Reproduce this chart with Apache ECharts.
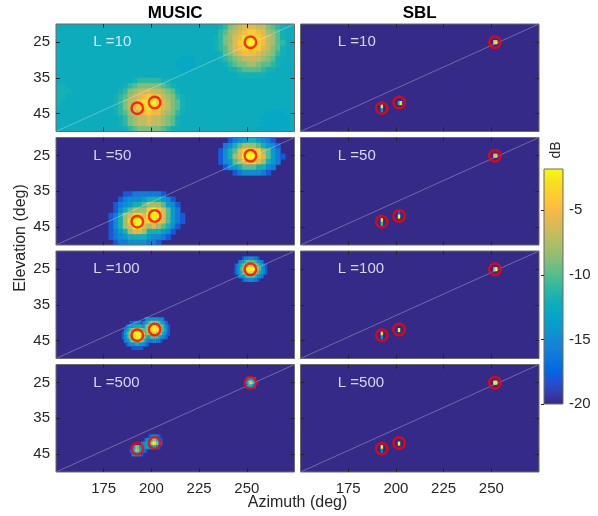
<!DOCTYPE html>
<html>
<head>
<meta charset="utf-8">
<script src="https://cdn.jsdelivr.net/npm/echarts@6/dist/echarts.min.js"></script>
<style>html,body{margin:0;padding:0;background:#fff}#c{width:598px;height:516px}</style>
</head>
<body>
<div id="c"></div>
<script>
// ---------------- data ----------------
const methods = ['MUSIC', 'SBL'];
const snapshots = [10, 50, 100, 500];
const azTicks = [175, 200, 225, 250];
const elTicks = [25, 35, 45];
const cbTicks = [-20, -15, -10, -5];
const azRange = [150, 275];
const elRange = [20, 50];
const dbRange = [-20, -1.8];
const sourceAz = [251.9, 192.6, 201.7];
const sourceEl = [25.1, 43.5, 41.9];
const diagAz = [150, 275];
const diagEl = [50, 20];
const labelAz = 169.3;
const labelEl = 25;
// level characters: '0' = -20 dB, each next char +1 dB ... 'I' = -2 dB ; '.' = panel floor
const levelChars = '0123456789ABCDEFGHIJ';

// MUSIC, L=10  (cells 2.5 deg az x 1.5 deg el) entries: [az of first cell, el, levels]
const music10Floor = -12.5;
const music10Patches = [
  [236.25, 20.75, '89BCDEEEDDBA98'],
  [236.25, 22.25, '9ACDEFGGFECBA8'],
  [233.75, 23.75, '89BCEFHIHGFDCA8'],
  [233.75, 25.25, '89BCEGHIIGFDCA9'],
  [233.75, 26.75, '89ACEFGHHGEDBA8'],
  [236.25, 28.25, '8ABDEFFFEDCB98'],
  [236.25, 29.75, '89ABCDDDDCBA8'],
  [238.75, 31.25, '89ABBCCBAA98'],
  [241.25, 32.75, '889AAAA988'],
  [246.25, 34.25, '888888'],
  [191.25, 35.75, '89999988'],
  [186.25, 37.25, '89ABBBBBA98'],
  [183.75, 38.75, '89BCDDEDDCBA8'],
  [181.25, 40.25, '89ACDEFGFFDCB98'],
  [181.25, 41.75, '89BDEGHIIGEDBA8'],
  [181.25, 43.25, '89BDFGHHHGEDBA8'],
  [181.25, 44.75, '89ACDEFGFFDCB98'],
  [183.75, 46.25, '89BCDDEDDCBA8'],
  [183.75, 47.75, '89BCDDEDDCBA8'],
  [186.25, 49.25, '89ABBBBBA98'],
  [151.25, 37.25, '88'],
  [151.25, 38.75, '888'],
  [151.25, 40.25, '88'],
  [151.25, 41.75, '8'],
  [261.25, 44.75, '7777'],
  [258.75, 46.25, '777777'],
  [258.75, 47.75, '777777'],
  [256.25, 49.25, '7777777'],
  [216.25, 29.75, '777'],
  [213.75, 31.25, '7777'],
  [216.25, 32.75, '77']
];

// MUSIC, L=50  (cells 2.5 x 1.5)
const music50Floor = -20;
const music50Patches = [
  [241.25, 20.75, '2456886542'],
  [238.75, 22.25, '458ACCCA8652'],
  [236.25, 23.75, '258AEGIGGCA64'],
  [236.25, 25.25, '258CEIIIGEA642'],
  [236.25, 26.75, '256ACEGGEC864'],
  [238.75, 28.25, '2568AAA8854'],
  [243.75, 29.75, '24555542'],
  [186.25, 35.75, '224444442'],
  [183.75, 37.25, '245556888652'],
  [181.25, 38.75, '245688ACCCA652'],
  [181.25, 40.25, '258ACCCGIGEA64'],
  [178.75, 41.75, '248CEGGEIIIEA642'],
  [178.75, 43.25, '258CGIIGGIGEA642'],
  [178.75, 44.75, '258CEIIECECA852'],
  [178.75, 46.25, '2468CEEC888652'],
  [178.75, 47.75, '2456888865542'],
  [181.25, 49.25, '2445555442']
];

// MUSIC, L=100 (cells 1 x 1)
const music100Floor = -20;
const music100Patches = [
  [248, 22, '244555442'],
  [246, 23, '4568AAAAA8654'],
  [244, 24, '2468ACEGGGECA8642'],
  [244, 25, '256ACEIIIIIECA652'],
  [244, 26, '2468ACEGGGECA8642'],
  [246, 27, '4568AAAAA8654'],
  [248, 28, '244555442'],
  [197, 39, '4556666554'],
  [189, 40, '2244442568ACCCCA8652'],
  [187, 41, '2566888866ACEGIIGECA652'],
  [186, 42, '458ACEEEECAAEGIIIIGEA852'],
  [185, 43, '258AEGIIIIGEACEEGGEEC8642'],
  [185, 44, '256ACEIIIIECA68AAAA86542'],
  [186, 45, '456ACCEECCA654455442'],
  [187, 46, '245668866542'],
  [190, 47, '222222']
];

// MUSIC, L=500 (cells 1 x 1)
const music500Floor = -20;
const music500Patches = [
  [250, 24, '46664'],
  [249, 25, '25AHA52'],
  [250, 26, '46864'],
  [199, 40, '245542'],
  [197, 41, '4568CC852'],
  [195, 42, '45668CIHC64'],
  [190, 43, '46CB65566568852'],
  [189, 44, '258EC8542'],
  [190, 45, '456642']
];

// SBL (cells 1 x 1)
const sblFloor = -20;
const sbl10Patches = [[251.5, 25, 'GH'], [201.5, 42, '9H'], [192.5, 43, 'H'], [192.5, 44, '5']];
const sbl50Patches = [[251.5, 25, 'FF'], [201.5, 41, '3'], [201.5, 42, 'I'], [192.5, 43, 'G'], [192.5, 44, '9']];
const sbl100Patches = [[251.5, 25, 'CI'], [201.5, 42, 'I'], [192.5, 43, 'H'], [192.5, 44, '5']];
const sbl500Patches = [[251.5, 25, 'IH'], [201.5, 42, 'I'], [192.5, 43, 'I'], [192.5, 44, '4']];

// grid resolution of each panel [dAz, dEl]
const musicSteps = [[2.5, 1.5], [2.5, 1.5], [1, 1], [1, 1]];
const sblSteps = [[1, 1], [1, 1], [1, 1], [1, 1]];

// parula colormap
const parula = ['#352a87','#353dad','#2053d4','#0268e1','#0d75dc','#1481d6','#108ed2','#079ccf',
  '#06a7c6','#0faeb9','#25b5a9','#42bb98','#65be86','#87bf77','#a5be6b','#c0bc60','#d9ba56',
  '#f1b94a','#ffc337','#fad32a','#f5e41d','#f9fb0e'];

// ---------------- build ----------------
function buildCells(floor, patches, step) {
  const cells = [[(azRange[0] + azRange[1]) / 2, (elRange[0] + elRange[1]) / 2, floor,
                  azRange[1] - azRange[0], elRange[1] - elRange[0]]];
  patches.forEach(function (p) {
    const s = p[2];
    for (let i = 0; i < s.length; i++) {
      const ch = s[i];
      if (ch === '.') continue;
      cells.push([p[0] + i * step[0], p[1], -20 + levelChars.indexOf(ch), step[0], step[1]]);
    }
  });
  return cells;
}

const panelPatches = [
  [music10Patches, sbl10Patches],
  [music50Patches, sbl50Patches],
  [music100Patches, sbl100Patches],
  [music500Patches, sbl500Patches]
];
const panelFloors = [
  [music10Floor, sblFloor], [music50Floor, sblFloor], [music100Floor, sblFloor], [music500Floor, sblFloor]
];

const font = "'Liberation Sans', Arial, Helvetica, sans-serif";
const ink = '#262626';
const boxColor = '#6b6b6b';
const colLeft = [56, 300.5];
const panelW = 238.5;
const rowTop = [24, 137.5, 251, 364.5];
const panelH = 107.5;

function renderCell(params, api) {
  const az = api.value(0), el = api.value(1), w = api.value(3), h = api.value(4);
  const a = api.coord([az - w / 2, el - h / 2]);
  const b = api.coord([az + w / 2, el + h / 2]);
  const shape = echarts.graphic.clipRectByRect({
    x: Math.min(a[0], b[0]), y: Math.min(a[1], b[1]),
    width: Math.abs(b[0] - a[0]) + 0.5, height: Math.abs(b[1] - a[1]) + 0.5
  }, params.coordSys);
  if (!shape) return null;
  return { type: 'rect', shape: shape, style: { fill: api.visual('color') } };
}

const option = {
  animation: false,
  backgroundColor: '#ffffff',
  grid: [], xAxis: [], yAxis: [], series: [], graphic: []
};
const cellSeries = [];
const tickStyle = { color: ink, width: 1 };

for (let r = 0; r < 4; r++) {
  for (let c = 0; c < 2; c++) {
    const g = r * 2 + c;
    option.grid.push({
      left: colLeft[c], top: rowTop[r], width: panelW, height: panelH,
      show: true, z: 10, backgroundColor: 'transparent', borderColor: boxColor, borderWidth: 1
    });
    option.xAxis.push({
      gridIndex: g, type: 'value', min: azRange[0], max: azRange[1], interval: 25, position: 'bottom', z: 11,
      axisLine: { show: false }, splitLine: { show: false },
      axisTick: { show: true, inside: true, length: 4, customValues: azTicks, lineStyle: tickStyle },
      axisLabel: { show: r === 3, customValues: azTicks, fontSize: 15, color: ink, margin: 9, fontFamily: font }
    });
    option.xAxis.push({
      gridIndex: g, type: 'value', min: azRange[0], max: azRange[1], interval: 25, position: 'top', z: 11,
      axisLine: { show: false }, splitLine: { show: false },
      axisTick: { show: true, inside: true, length: 4, customValues: azTicks, lineStyle: tickStyle },
      axisLabel: { show: false }
    });
    option.yAxis.push({
      gridIndex: g, type: 'value', min: elRange[0], max: elRange[1], inverse: true, position: 'left', z: 11,
      axisLine: { show: false }, splitLine: { show: false },
      axisTick: { show: true, inside: true, length: 4, customValues: elTicks, lineStyle: tickStyle },
      axisLabel: { show: c === 0, customValues: elTicks, fontSize: 15, color: ink, margin: 6, fontFamily: font }
    });
    option.yAxis.push({
      gridIndex: g, type: 'value', min: elRange[0], max: elRange[1], inverse: true, position: 'right', z: 11,
      axisLine: { show: false }, splitLine: { show: false },
      axisTick: { show: true, inside: true, length: 4, customValues: elTicks, lineStyle: tickStyle },
      axisLabel: { show: false }
    });
    const xi = 2 * g, yi = 2 * g;
    const step = c === 0 ? musicSteps[r] : sblSteps[r];
    cellSeries.push(option.series.length);
    option.series.push({
      type: 'custom', xAxisIndex: xi, yAxisIndex: yi, z: 2, silent: true,
      dimensions: ['az', 'el', 'db', 'w', 'h'], encode: { x: 0, y: 1 },
      renderItem: renderCell,
      data: buildCells(panelFloors[r][c], panelPatches[r][c], step)
    });
    option.series.push({
      type: 'line', xAxisIndex: xi, yAxisIndex: yi, z: 3, silent: true, showSymbol: false, symbol: 'none',
      lineStyle: { color: 'rgba(255,255,255,0.5)', width: 0.6 },
      data: diagAz.map(function (a, i) { return [a, diagEl[i]]; })
    });
    option.series.push({
      type: 'scatter', xAxisIndex: xi, yAxisIndex: yi, z: 4, silent: true,
      symbol: 'circle', symbolSize: 11.5,
      itemStyle: { color: 'rgba(0,0,0,0)', borderColor: '#ff0000', borderWidth: 2.4 },
      data: sourceAz.map(function (a, i) { return [a, sourceEl[i]]; })
    });
    option.series.push({
      type: 'scatter', xAxisIndex: xi, yAxisIndex: yi, z: 5, silent: true,
      symbol: 'circle', symbolSize: 1, itemStyle: { color: 'rgba(0,0,0,0)' },
      label: { show: true, position: 'right', distance: 0, formatter: 'L =' + snapshots[r],
               color: '#ffffff', fontSize: 15, fontFamily: font },
      data: [[labelAz, labelEl]]
    });
  }
}

// colorbar
option.grid.push({ left: 544, top: 169, width: 19, height: 235, show: true, z: 10,
  backgroundColor: 'transparent', borderColor: boxColor, borderWidth: 1 });
option.xAxis.push({ gridIndex: 8, type: 'value', min: 0, max: 1, show: false });
option.yAxis.push({
  gridIndex: 8, type: 'value', min: dbRange[0], max: dbRange[1], position: 'right', z: 11,
  axisLine: { show: false }, splitLine: { show: false },
  axisTick: { show: true, inside: true, length: 3, customValues: cbTicks, lineStyle: tickStyle },
  axisLabel: { customValues: cbTicks, fontSize: 15, color: ink, margin: 6, fontFamily: font }
});
option.series.push({
  type: 'custom', xAxisIndex: 16, yAxisIndex: 16, silent: true,
  dimensions: ['lo', 'hi'], encode: { y: [0, 1] },
  renderItem: function (params, api) {
    const a = api.coord([0, api.value(0)]);
    const b = api.coord([1, api.value(1)]);
    return {
      type: 'rect',
      shape: { x: a[0], y: b[1], width: b[0] - a[0], height: a[1] - b[1] },
      style: { fill: new echarts.graphic.LinearGradient(0, 1, 0, 0,
        parula.map(function (col, i) { return { offset: i / (parula.length - 1), color: col }; })) }
    };
  },
  data: [[dbRange[0], dbRange[1]]]
});

option.visualMap = {
  type: 'continuous', show: false, min: dbRange[0], max: dbRange[1], dimension: 2,
  seriesIndex: cellSeries, inRange: { color: parula }
};

option.graphic = [
  { type: 'text', x: colLeft[0] + panelW / 2, y: 13, style: { text: methods[0], fontSize: 17, fontWeight: 'bold',
    fontFamily: font, fill: '#000', align: 'center', verticalAlign: 'middle' } },
  { type: 'text', x: colLeft[1] + panelW / 2, y: 13, style: { text: methods[1], fontSize: 17, fontWeight: 'bold',
    fontFamily: font, fill: '#000', align: 'center', verticalAlign: 'middle' } },
  { type: 'text', x: 297.5, y: 503, style: { text: 'Azimuth (deg)', fontSize: 16, fontFamily: font,
    fill: ink, align: 'center', verticalAlign: 'middle' } },
  { type: 'text', x: 21, y: 238, rotation: Math.PI / 2, style: { text: 'Elevation (deg)', fontSize: 16,
    fontFamily: font, fill: ink, align: 'center', verticalAlign: 'middle' } },
  { type: 'text', x: 556, y: 150, rotation: Math.PI / 2, style: { text: 'dB', fontSize: 14,
    fontFamily: font, fill: ink, align: 'center', verticalAlign: 'middle' } }
];

const chart = echarts.init(document.getElementById('c'), null, { renderer: 'canvas' });
chart.setOption(option);
</script>
</body>
</html>
